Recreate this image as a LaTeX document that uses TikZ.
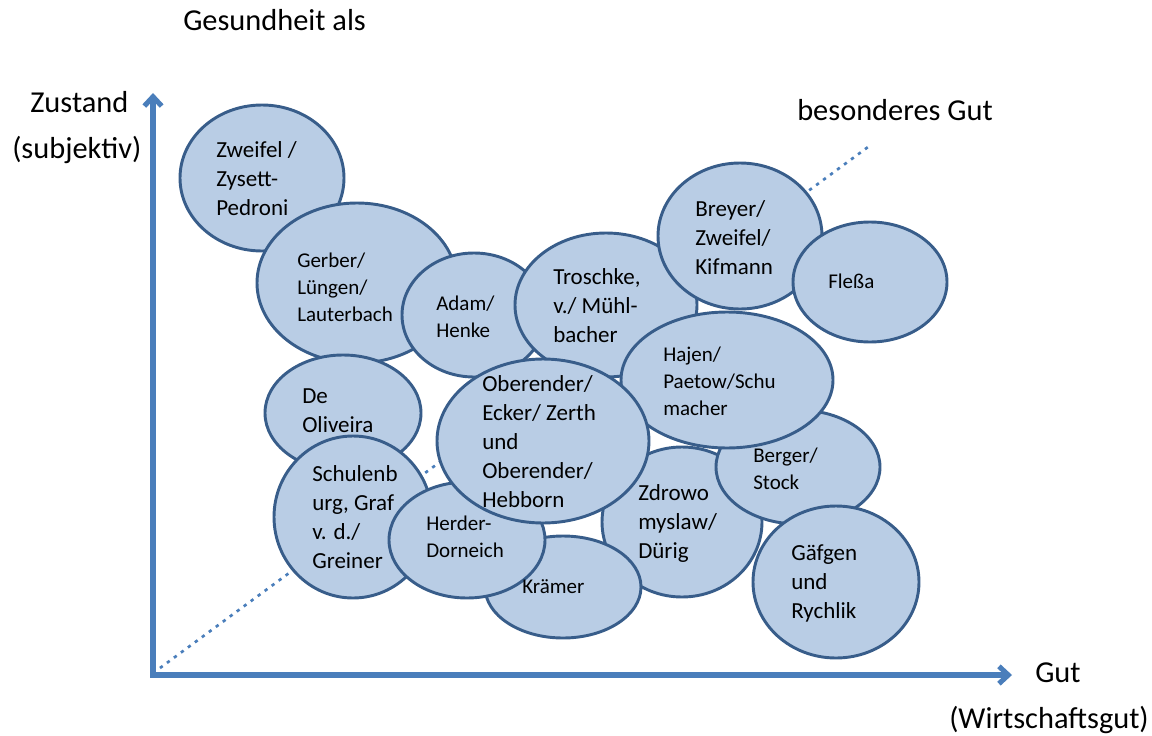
\documentclass[tikz,border=0pt]{standalone}
\usepackage{fontspec}
\setmainfont{Carlito}
\usetikzlibrary{shapes.geometric,arrows.meta}
\definecolor{bubfill}{HTML}{B9CDE5}
\definecolor{bubline}{HTML}{385D8A}
\definecolor{axisblue}{HTML}{4A7EBB}

\begin{document}
\begin{tikzpicture}[x=0.75pt,y=-0.75pt,
  bubble/.style 2 args={ellipse, draw=bubline, fill=bubfill, line width=2.2pt,
    minimum width=#1*1.5pt, minimum height=#2*1.5pt, inner sep=0pt},
  % text blocks are placed by the baseline of their last line
  lblL/.style={anchor=base west, align=left, inner sep=0pt,
    font=\fontsize{17.25}{21.75}\selectfont},
  lblS/.style={anchor=base west, align=left, inner sep=0pt,
    font=\fontsize{15.75}{20.25}\selectfont},
  axlbl/.style={anchor=base west, inner sep=0pt,
    font=\fontsize{22.8}{26}\selectfont},
  axisline/.style={draw=axisblue, line width=3.8pt,
    {Straight Barb[length=7pt,width=13pt]}-{Straight Barb[length=7pt,width=13pt]}},
  dotline/.style={draw=axisblue, line width=2pt, dash pattern=on 2.5pt off 4pt}
]
\useasboundingbox (0,0) rectangle (1152,735);

% axes and diagonal
\coordinate (origin) at (153,675);
\coordinate (ytip) at (153,93);
\coordinate (xtip) at (1012,675);
\coordinate (diagA) at (160,668);
\coordinate (diagB) at (868,147);
\draw[dotline] (diagA) -- (diagB);
\draw[axisline] (ytip) -- (origin) -- (xtip);

% axis labels
\node[axlbl] (title) at (183,31) {Gesundheit als};
\node[axlbl] (zustand) at (30,112) {Zustand};
\node[axlbl] (subj) at (12,158) {(subjektiv)};
\node[axlbl] (besGut) at (797,120) {besonderes Gut};
\node[axlbl] (gut) at (1035,682) {Gut};
\node[axlbl] (wgut) at (949,728) {(Wirtschaftsgut)};

% bubbles, back to front
\node[bubble={82}{73}] (zweifel) at (262,178) {};
\node[bubble={100}{80}] (gerber) at (357,283) {};
\node[bubble={78}{58}] (deoliveira) at (343,413) {};
\node[bubble={72}{62}] (adam) at (474,315) {};
\node[bubble={91}{72}] (troschke) at (606,305) {};
\node[bubble={82}{73}] (breyer) at (740,236) {};
\node[bubble={77}{60}] (flessa) at (870,282) {};
\node[bubble={80}{75}] (zdrowo) at (682,522) {};
\node[bubble={82}{57}] (berger) at (798,467) {};
\node[bubble={106}{68}] (hajen) at (727,380) {};
\node[bubble={79}{81}] (schulenburg) at (353,517) {};
\node[bubble={78}{51}] (kraemer) at (563,587) {};
\node[bubble={78}{58}] (herder) at (467,540) {};
\node[bubble={106}{82}] (oberender) at (543,441) {};
\node[bubble={83}{76}] (gaefgen) at (836,582) {};

% names inside the bubbles
\node[lblL] (t-zweifel) at (216,215) {Zweifel /\\Zysett-\\Pedroni};
\node[lblS] (t-gerber) at (297,321) {Gerber/\\Lüngen/\\Lauterbach};
\node[lblL] (t-deoliveira) at (302,432) {De\\Oliveira};
\node[lblS] (t-adam) at (436,337) {Adam/\\Henke};
\node[lblL] (t-troschke) at (553,342) {Troschke,\\v./ Mühl-\\bacher};
\node[lblL] (t-breyer) at (695,274) {Breyer/\\Zweifel/\\Kifmann};
\node[lblS] (t-flessa) at (828,288) {Fleßa};
\node[lblL] (t-zdrowo) at (638,558) {Zdrowo\\myslaw/\\Dürig};
\node[lblS] (t-berger) at (753,489) {Berger/\\Stock};
\node[lblS] (t-hajen) at (663,415) {Hajen/\\Paetow/Schu\\macher};
\node[lblL] (t-schulenburg) at (312,568) {Schulenb\\urg, Graf\\v. d./\\Greiner};
\node[lblS] (t-kraemer) at (522,593) {Krämer};
\node[lblS] (t-herder) at (426,557) {Herder-\\Dorneich};
\node[lblL] (t-oberender) at (482,507) {Oberender/\\Ecker/ Zerth\\und\\Oberender/\\Hebborn};
\node[lblL] (t-gaefgen) at (791,618) {Gäfgen\\und\\Rychlik};
\end{tikzpicture}
\end{document}
